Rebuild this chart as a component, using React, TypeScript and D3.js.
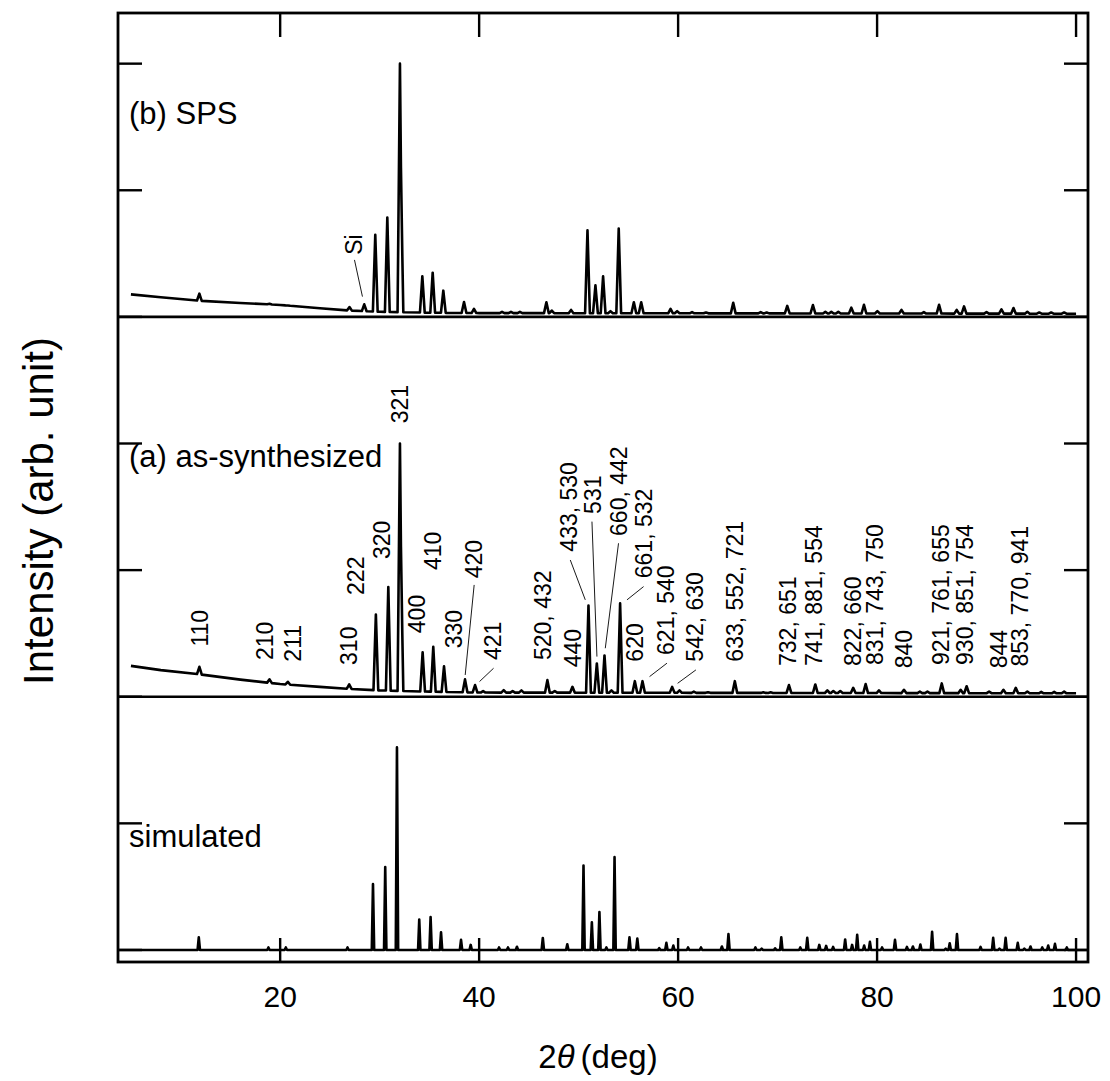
import React from "react";
import * as d3 from "d3";

// ---------- data (2θ in deg, intensity in arb. units relative to each pattern's baseline) ----------
const xTicks = [20, 40, 60, 80, 100];
const yTicks = [0, 1, 2, 3, 4, 5, 6, 7];
const panelDividers = [2, 5];

const simOffset = 0;
const asOffset = 2;
const spsOffset = 5;

const simBackground: [number, number][] = [
  [3.0, 0],
  [102, 0],
];
const simPeaks: [number, number][] = [
  [11.82, 0.1], [18.82, 0.02], [20.57, 0.02], [26.77, 0.02], [29.33, 0.52], [30.56, 0.655],
  [31.74, 1.6], [33.98, 0.24], [35.12, 0.26], [36.17, 0.14], [38.18, 0.08], [39.15, 0.04],
  [42.0, 0.02], [42.9, 0.02], [43.8, 0.025], [46.4, 0.095], [48.86, 0.045], [50.49, 0.667],
  [51.33, 0.219], [52.09, 0.3], [52.79, 0.02], [53.61, 0.733], [55.11, 0.1], [55.9, 0.09],
  [58.1, 0.015], [58.82, 0.056], [59.52, 0.035], [61.0, 0.02], [62.3, 0.02], [64.4, 0.027],
  [65.06, 0.125], [67.77, 0.02], [68.4, 0.01], [69.75, 0.013], [70.37, 0.1], [72.28, 0.02],
  [72.98, 0.096], [74.19, 0.04], [74.88, 0.032], [75.58, 0.024], [76.79, 0.083], [77.49, 0.04],
  [78.0, 0.12], [78.7, 0.035], [79.28, 0.064], [80.5, 0.02], [81.8, 0.08], [83.0, 0.024],
  [83.6, 0.027], [84.35, 0.043], [85.53, 0.144], [86.9, 0.01], [87.3, 0.053], [88.03, 0.125],
  [90.4, 0.024], [91.67, 0.096], [92.3, 0.01], [92.92, 0.096], [94.14, 0.056], [94.8, 0.01],
  [95.42, 0.027], [96.6, 0.02], [97.2, 0.035], [97.88, 0.048], [99.07, 0.02],
];

const asBackground: [number, number][] = [
  [5, 0.244], [8, 0.21], [12, 0.176], [16, 0.135], [20, 0.1], [24, 0.078], [27, 0.062],
  [30, 0.05], [35, 0.04], [40, 0.033], [100, 0.027],
];
const asPeaks: [number, number][] = [
  [11.88, 0.236], [18.93, 0.137], [20.77, 0.118], [26.94, 0.097], [29.62, 0.65], [30.87, 0.867],
  [32.04, 2.0], [32.14, 1.1], [34.32, 0.35], [35.39, 0.394], [36.47, 0.24], [38.58, 0.137],
  [39.59, 0.092], [40.4, 0.045], [42.47, 0.052], [43.37, 0.045], [44.25, 0.05], [46.86, 0.131],
  [47.6, 0.045], [49.38, 0.078], [50.99, 0.72], [51.83, 0.263], [52.6, 0.326], [53.3, 0.05],
  [54.17, 0.737], [55.65, 0.123], [56.42, 0.123], [59.4, 0.078], [60.14, 0.05], [61.58, 0.04],
  [63.0, 0.035], [65.7, 0.123], [68.56, 0.035], [69.3, 0.035], [71.14, 0.092], [73.79, 0.097],
  [75.0, 0.05], [75.6, 0.045], [76.3, 0.045], [77.6, 0.07], [78.85, 0.1], [80.19, 0.05],
  [82.7, 0.055], [84.3, 0.04], [85.06, 0.04], [86.5, 0.105], [88.4, 0.055], [89.0, 0.083],
  [91.26, 0.04], [92.7, 0.055], [93.94, 0.07], [95.1, 0.04], [96.5, 0.038], [97.8, 0.038],
  [98.8, 0.04],
];

const spsBackground: [number, number][] = [
  [5, 0.178], [8, 0.155], [12, 0.127], [16, 0.11], [20, 0.094], [24, 0.068], [27, 0.05],
  [30, 0.04], [35, 0.033], [40, 0.03], [100, 0.025],
];
const spsPeaks: [number, number][] = [
  [11.88, 0.183], [18.93, 0.103], [20.77, 0.09], [26.97, 0.077], [28.45, 0.099], [29.56, 0.649],
  [30.77, 0.785], [32.04, 2.0], [32.14, 1.1], [34.29, 0.32], [35.33, 0.349], [36.4, 0.207],
  [38.48, 0.117], [39.48, 0.064], [42.3, 0.04], [43.2, 0.04], [44.1, 0.04], [46.76, 0.115],
  [47.3, 0.05], [49.24, 0.055], [50.89, 0.683], [51.69, 0.249], [52.46, 0.32], [53.2, 0.045],
  [54.03, 0.698], [55.55, 0.115], [56.29, 0.115], [59.24, 0.064], [59.9, 0.045], [61.4, 0.038],
  [62.8, 0.035], [65.54, 0.111], [68.3, 0.038], [68.9, 0.035], [70.97, 0.087], [73.55, 0.094],
  [74.8, 0.04], [75.4, 0.04], [76.1, 0.04], [77.41, 0.073], [78.68, 0.095], [80.03, 0.045],
  [82.45, 0.055], [84.7, 0.038], [86.23, 0.095], [88.0, 0.055], [88.74, 0.083], [91.0, 0.038],
  [92.5, 0.06], [93.71, 0.07], [95.1, 0.04], [96.3, 0.035], [97.5, 0.035], [98.8, 0.035],
];

// hkl annotations: [text, 2θ, y (absolute axis units)]
const hklLabels: [string, number, number][] = [
  ["110", 11.96, 2.396], ["210", 18.49, 2.29], ["211", 21.28, 2.277], ["310", 26.87, 2.251],
  ["222", 27.61, 2.804], ["320", 30.23, 3.088], ["321", 32.06, 4.16], ["400", 33.74, 2.502],
  ["410", 35.35, 3.0], ["330", 37.42, 2.382], ["420", 39.43, 2.936], ["421", 41.39, 2.29],
  ["520, 432", 46.41, 2.29], ["440", 49.39, 2.233], ["433, 530", 48.99, 3.146],
  ["531", 51.42, 3.444], ["660, 442", 54.01, 3.27], ["661, 532", 56.53, 2.936],
  ["620", 55.62, 2.277], ["621, 540", 58.81, 2.33], ["542, 630", 61.72, 2.277],
  ["633, 552, 721", 65.75, 2.277], ["732, 651", 71.0, 2.243], ["741, 881, 554", 73.62, 2.243],
  ["822, 660", 77.58, 2.243], ["831, 743, 750", 79.82, 2.251], ["840", 82.67, 2.225],
  ["921, 761, 655", 86.46, 2.251], ["930, 851, 754", 88.87, 2.251], ["844", 92.22, 2.225],
  ["853, 770, 941", 94.4, 2.238],
];
// leader lines: [2θ1, y1, 2θ2, y2]
const leaderLines: [number, number, number, number][] = [
  [39.5, 2.883, 38.6, 2.172],
  [41.45, 2.225, 40.04, 2.12],
  [49.16, 3.08, 50.67, 2.765],
  [51.34, 3.383, 51.84, 2.317],
  [54.01, 3.212, 52.68, 2.383],
  [56.53, 2.87, 54.86, 2.765],
  [58.88, 2.265, 57.13, 2.159],
  [61.79, 2.212, 59.95, 2.106],
  [27.47, 5.45, 28.27, 5.16],
];
const siLabel: [string, number, number] = ["Si", 27.37, 5.49];

const panelLabels: [string, number][] = [
  ["(b) SPS", 6.52],
  ["(a) as-synthesized", 3.815],
  ["simulated", 0.817],
];

// ---------- layout ----------
const W = 1110;
const H = 1081;
const left = 118;
const right = 1088;
const top = 13;
const bottom = 962;

const x = d3.scaleLinear().domain([3.7, 101.2]).range([left, right]);
const y = d3.scaleLinear().domain([-0.095, 7.4]).range([bottom, top]);

const FONT = "Arial, 'Liberation Sans', Helvetica, sans-serif";

function buildProfile(
  bg: [number, number][],
  peaks: [number, number][],
  halfWidth: number,
  xMin: number,
  xMax: number
): [number, number][] {
  const bgFn = (t: number) => {
    const xs = bg.map((d) => d[0]);
    const i = d3.bisectRight(xs, t);
    if (i <= 0) return bg[0][1];
    if (i >= bg.length) return bg[bg.length - 1][1];
    const [x0, y0] = bg[i - 1];
    const [x1, y1] = bg[i];
    return y0 + ((y1 - y0) * (t - x0)) / (x1 - x0);
  };
  const pts = new Set<number>();
  bg.forEach((d) => pts.add(d[0]));
  pts.add(xMin);
  pts.add(xMax);
  peaks.forEach(([p]) => {
    pts.add(p - halfWidth);
    pts.add(p);
    pts.add(p + halfWidth);
  });
  const xs = Array.from(pts)
    .filter((t) => t >= xMin && t <= xMax)
    .sort((a, b) => a - b);
  return xs.map((t) => {
    const b = bgFn(t);
    let m = 0;
    for (const [p, apex] of peaks) {
      const dist = Math.abs(t - p);
      if (dist < halfWidth) {
        const amp = Math.max(0, apex - bgFn(p));
        m = Math.max(m, amp * (1 - dist / halfWidth));
      }
    }
    return [t, b + m];
  });
}

export default function App() {
  const line = d3
    .line<[number, number]>()
    .x((d) => x(d[0]))
    .y((d) => y(d[1]));

  const series = [
    { off: simOffset, pts: buildProfile(simBackground, simPeaks, 0.12, 3.7, 101.2) },
    { off: asOffset, pts: buildProfile(asBackground, asPeaks, 0.24, 5, 100) },
    { off: spsOffset, pts: buildProfile(spsBackground, spsPeaks, 0.24, 5, 100) },
  ];

  const tickLen = 24;

  return (
    <svg
      width={W}
      height={H}
      style={{ position: "absolute", left: 0, top: 0, background: "#fff" }}
      fontFamily={FONT}
    >
      <rect x={0} y={0} width={W} height={H} fill="#fff" />
      <defs>
        <clipPath id="plotClip">
          <rect x={left} y={top} width={right - left} height={bottom - top} />
        </clipPath>
      </defs>

      {/* data */}
      <g clipPath="url(#plotClip)">
        {series.map((s, i) => (
          <path
            key={i}
            d={line(s.pts.map(([t, v]) => [t, v + s.off]) as [number, number][]) || ""}
            fill="none"
            stroke="#000"
            strokeWidth={2.6}
            strokeLinejoin="round"
          />
        ))}
      </g>

      {/* dividers */}
      {panelDividers.map((v) => (
        <line key={v} x1={left} x2={right} y1={y(v)} y2={y(v)} stroke="#000" strokeWidth={2.6} />
      ))}

      {/* ticks */}
      {xTicks.map((t) => (
        <g key={t}>
          <line x1={x(t)} x2={x(t)} y1={bottom} y2={bottom - tickLen} stroke="#000" strokeWidth={2.4} />
          <line x1={x(t)} x2={x(t)} y1={top} y2={top + tickLen} stroke="#000" strokeWidth={2.4} />
          <text x={x(t)} y={bottom + 45} textAnchor="middle" fontSize={30} fill="#000">
            {t}
          </text>
        </g>
      ))}
      {yTicks.map((t) => (
        <g key={t}>
          <line x1={left} x2={left + tickLen} y1={y(t)} y2={y(t)} stroke="#000" strokeWidth={2.4} />
          <line x1={right} x2={right - tickLen} y1={y(t)} y2={y(t)} stroke="#000" strokeWidth={2.4} />
        </g>
      ))}

      {/* frame */}
      <rect
        x={left}
        y={top}
        width={right - left}
        height={bottom - top}
        fill="none"
        stroke="#000"
        strokeWidth={2.8}
      />

      {/* leader lines */}
      {leaderLines.map(([a, b, c, d], i) => (
        <line key={i} x1={x(a)} y1={y(b)} x2={x(c)} y2={y(d)} stroke="#000" strokeWidth={0.9} />
      ))}

      {/* hkl labels */}
      {hklLabels.map(([txt, t, v], i) => (
        <text
          key={i}
          transform={`translate(${x(t)},${y(v)}) rotate(-90)`}
          dy="0.35em"
          fontSize={23}
          fill="#000"
        >
          {txt}
        </text>
      ))}
      <text
        transform={`translate(${x(siLabel[1])},${y(siLabel[2])}) rotate(-90)`}
        dy="0.35em"
        fontSize={23}
        fill="#000"
      >
        {siLabel[0]}
      </text>

      {/* panel labels */}
      {panelLabels.map(([txt, v]) => (
        <text key={txt} x={left + 11} y={y(v)} fontSize={31} fill="#000">
          {txt}
        </text>
      ))}

      {/* axis titles */}
      <text
        transform={`translate(53,511) rotate(-90)`}
        textAnchor="middle"
        fontSize={42}
        fill="#000"
      >
        Intensity (arb. unit)
      </text>
      <text x={598} y={1068} textAnchor="middle" fontSize={33} fill="#000">
        2<tspan fontStyle="italic">θ</tspan>
        <tspan dx={6}>(deg)</tspan>
      </text>
    </svg>
  );
}
